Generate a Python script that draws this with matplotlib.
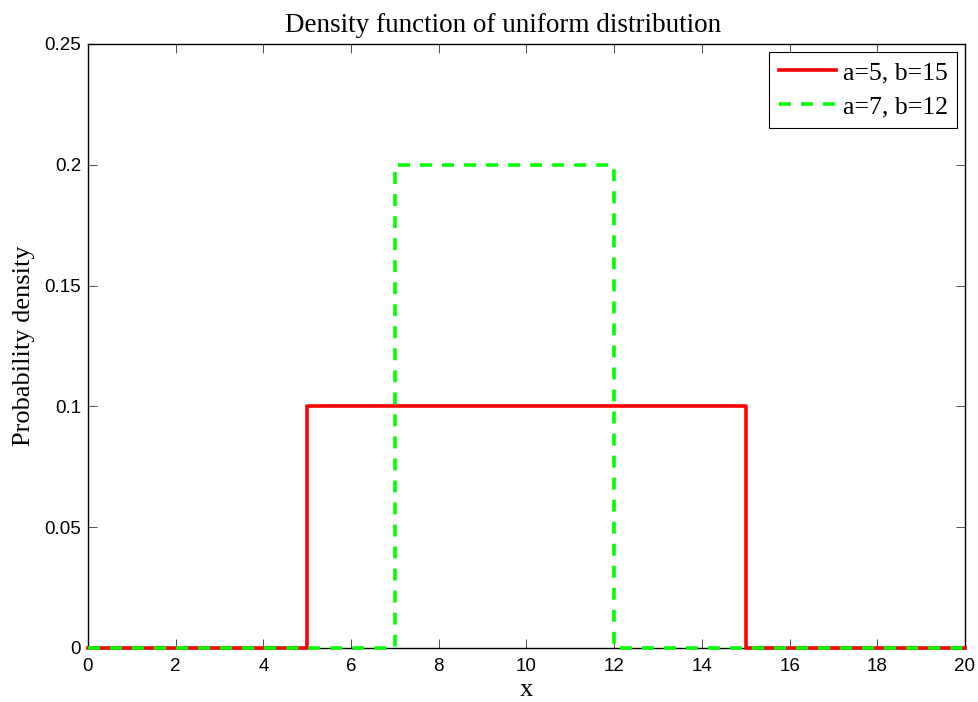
import matplotlib
matplotlib.use("Agg")
import matplotlib.pyplot as plt

x_red = [0, 5, 5, 15, 15, 20]
y_red = [0, 0, 0.1, 0.1, 0, 0]
x_green = [0, 7, 7, 12, 12, 20]
y_green = [0, 0, 0.2, 0.2, 0, 0]
labels = ["a=5, b=15", "a=7, b=12"]
xticks = [0, 2, 4, 6, 8, 10, 12, 14, 16, 18, 20]
yticks = [0, 0.05, 0.1, 0.15, 0.2, 0.25]
yticklabels = ["0", "0.05", "0.1", "0.15", "0.2", "0.25"]

fig = plt.figure(figsize=(9.79, 7.02), dpi=100)
ax = fig.add_axes([88/979, 1-648/702, (965-88)/979, (648-44)/702])

ax.plot(x_red, y_red, color="#ff0000", lw=2.6, label=labels[0], zorder=3, clip_on=False)
ax.plot(x_green, y_green, color="#00ff00", lw=2.6, ls=(0, (3.3, 2.8)), label=labels[1],
        zorder=4, clip_on=False)

ax.set_xlim(0, 20)
ax.set_ylim(0, 0.25)
ax.set_xticks(xticks)
ax.set_yticks(yticks)
ax.set_yticklabels(yticklabels)
ax.tick_params(direction="in", length=6.5, width=0.6, top=True, right=True,
               labelsize=13.5, color="#333333")
ax.tick_params(axis="x", pad=7)
ax.tick_params(axis="y", pad=5)
for lab in ax.get_xticklabels() + ax.get_yticklabels():
    lab.set_family("Liberation Sans")
for s in ax.spines.values():
    s.set_linewidth(1.0)
    s.set_color("#000000")
    s.set_zorder(2)

serif = "Liberation Serif"
ax.set_title("Density function of uniform distribution", family=serif, fontsize=19.5,
             pad=9, x=0.473)
ax.set_xlabel("x", family=serif, fontsize=19, labelpad=3)
ax.set_ylabel("Probability density", family=serif, fontsize=19, labelpad=7)

leg = ax.legend(loc="upper right", prop={"family": serif, "size": 18.5},
                fancybox=False, edgecolor="black", framealpha=1,
                handlelength=2.2, handletextpad=0.27, borderaxespad=0.3,
                borderpad=0.38, labelspacing=0.42)
leg.get_frame().set_linewidth(0.8)
leg.set_zorder(5)

fig.savefig("out.png", dpi=100)
